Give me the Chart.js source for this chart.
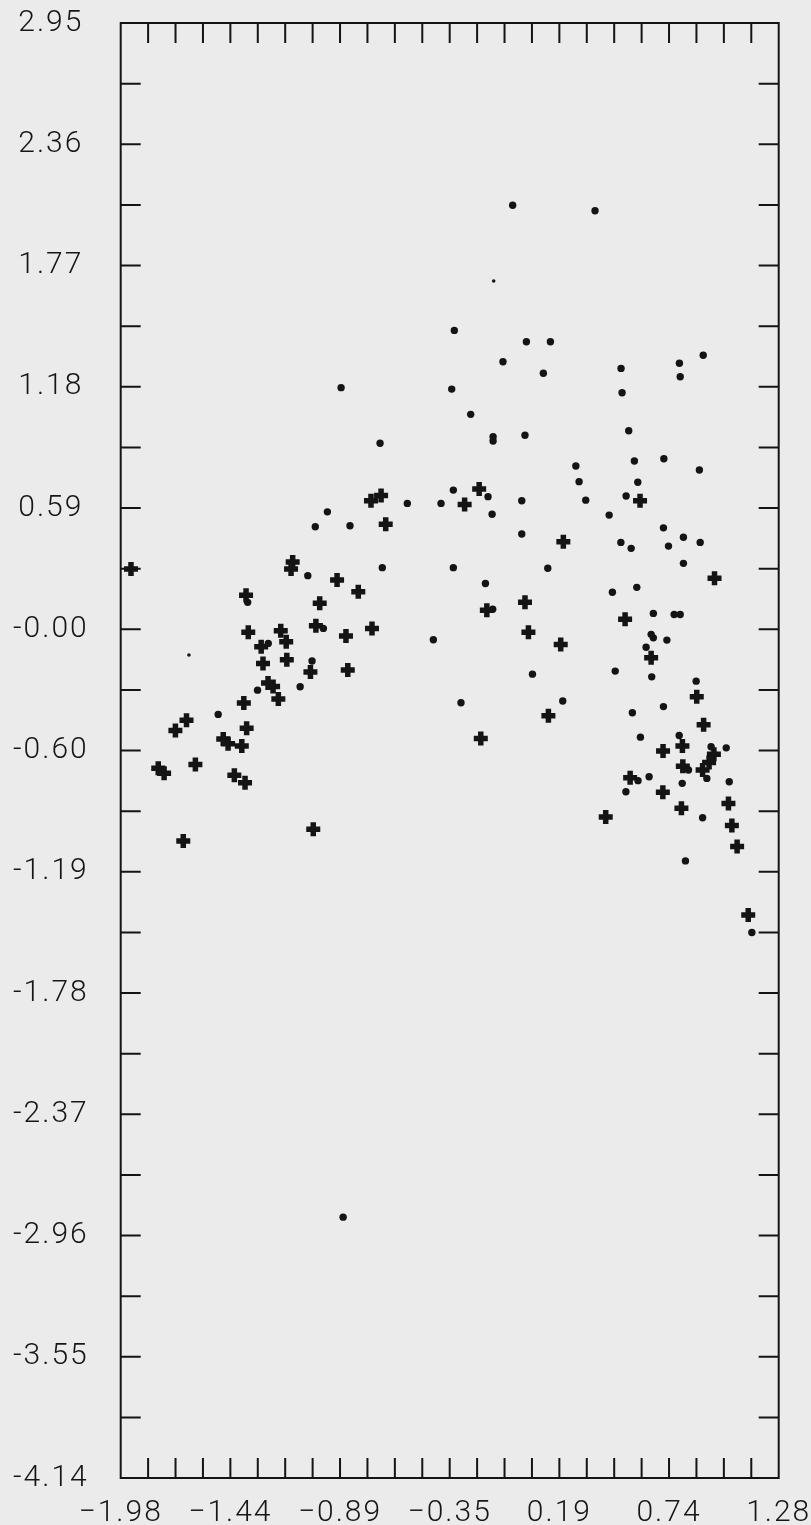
<!DOCTYPE html>
<html>
<head>
<meta charset="utf-8">
<script src="https://cdn.jsdelivr.net/npm/chart.js@4.4.1/dist/chart.umd.min.js"></script>
<style>
  html, body { margin: 0; padding: 0; background: #ebebeb; }
  #wrap { width: 811px; height: 1525px; }
</style>
</head>
<body>
<div id="wrap"><canvas id="chart" width="811" height="1525"></canvas></div>
<script>
// axis range and labels
const xMin = -1.98, xMax = 1.28;
const yMin = -4.14, yMax = 2.95;
const xTickLabels = ['\u22121.98', '\u22121.44', '\u22120.89', '\u22120.35', '0.19', '0.74', '1.28'];
const yTickLabels = ['2.95', '2.36', '1.77', '1.18', '0.59', '-0.00', '-0.60', '-1.19', '-1.78', '-2.37', '-2.96', '-3.55', '-4.14'];

// round markers
const dotX = [-0.038, 0.370, -0.327, 0.030, 0.149, -0.086, 0.114, 0.499, 0.788, 0.906,
  0.792, -0.340, 0.504, -0.246, -0.135, -0.135, 0.023, 0.537, 0.275, 0.565,
  0.711, 0.887, 0.291, 0.582, -0.332, -0.160, 0.524, -0.560, -0.393, 0.007,
  0.324, -0.888, -0.695, -0.956, -1.016, -0.844, -1.053, -0.684, -0.332, -1.351,
  -0.976, -1.249, -0.431, -1.032, -1.302, -1.091, -0.294, -1.497, -0.140, 0.007,
  0.440, 0.709, 0.498, 0.549, 0.734, 0.808, 0.891, 0.808, 0.136, -0.173,
  0.456, 0.577, -0.137, 0.659, 0.762, 0.792, 0.648, 0.659, 0.726, 0.623,
  0.060, 0.470, 0.651, 0.871, 0.210, 0.555, 0.709, 0.595, 0.787, 0.945,
  1.020, 0.833, 0.924, 0.583, 0.638, 1.035, 0.802, 0.523, 0.903, 0.818,
  1.147, -0.878];
const dotY = [2.062, 2.035, 1.452, 1.397, 1.397, 1.299, 1.243, 1.267, 1.292, 1.331,
  1.226, 1.166, 1.148, 1.043, 0.934, 0.913, 0.941, 0.963, 0.791, 0.816,
  0.827, 0.772, 0.715, 0.712, 0.674, 0.642, 0.645, 0.609, 0.609, 0.622,
  0.625, 1.173, 0.902, 0.568, 0.495, 0.500, 0.257, 0.296, 0.296, 0.127,
  0.000, -0.073, -0.055, -0.159, -0.301, -0.284, -0.362, -0.419, 0.556, 0.460,
  0.552, 0.490, 0.419, 0.390, 0.401, 0.444, 0.419, 0.317, 0.293, 0.219,
  0.176, 0.200, 0.093, 0.073, 0.068, 0.068, -0.029, -0.046, -0.057, -0.092,
  -0.223, -0.208, -0.236, -0.257, -0.354, -0.411, -0.381, -0.530, -0.522, -0.577,
  -0.582, -0.690, -0.731, -0.742, -0.723, -0.747, -0.755, -0.796, -0.923, -1.133,
  -1.482, -2.869];

// the two tiny specks
const speckX = [-0.132, -1.642];
const speckY = [1.693, -0.130];

// cross markers
const crossX = [-0.204, -0.276, 0.593, -0.740, -0.690, -0.667, -1.929, -1.128, -1.136, -0.908,
  -0.803, -1.359, -0.994, -1.013, -0.735, -0.864, -1.348, -1.187, -1.160, -1.284,
  -1.275, -1.157, -1.040, -0.855, -1.250, -1.225, -1.199, -1.370, -1.654, -1.709,
  -1.356, -1.472, -1.448, -1.380, -1.794, -1.765, -1.610, -1.417, -1.364, -1.026,
  -1.670, 0.213, 0.962, 0.023, -0.166, 0.519, 0.040, 0.200, 0.648, 0.874,
  0.139, 0.908, -0.196, 0.803, 0.707, 0.959, 0.935, 0.903, 0.805, 0.544,
  0.706, 1.031, 0.798, 0.423, 1.048, 1.074, 1.129];
const crossY = [0.679, 0.604, 0.622, 0.622, 0.647, 0.507, 0.289, 0.323, 0.289, 0.236,
  0.179, 0.162, 0.123, 0.013, 0.000, -0.037, -0.019, -0.011, -0.065, -0.090,
  -0.171, -0.153, -0.213, -0.203, -0.266, -0.283, -0.344, -0.363, -0.447, -0.497,
  -0.487, -0.539, -0.562, -0.573, -0.682, -0.706, -0.663, -0.715, -0.752, -0.979,
  -1.036, 0.422, 0.244, 0.127, 0.089, 0.044, -0.019, -0.078, -0.143, -0.333,
  -0.426, -0.470, -0.536, -0.573, -0.598, -0.613, -0.654, -0.690, -0.672, -0.728,
  -0.798, -0.853, -0.877, -0.919, -0.961, -1.063, -1.397];

const ink = '#141414';
const minorDivs = 24;
const tickLen = 20;

const toPoints = (xs, ys) => xs.map((v, i) => ({ x: v, y: ys[i] }));
const evenSteps = (lo, hi, n) => Array.from({ length: n + 1 }, (_, k) => lo + k * (hi - lo) / n);

// frame with inward ticks on all four sides
const frame = {
  id: 'frame',
  beforeDatasetsDraw(chart) {
    const { ctx, chartArea: a, scales: { x, y } } = chart;
    ctx.save();
    ctx.strokeStyle = ink;
    ctx.lineWidth = 2;
    ctx.strokeRect(a.left, a.top, a.right - a.left, a.bottom - a.top);
    ctx.beginPath();
    const xs = evenSteps(xMin, xMax, minorDivs);
    const ys = evenSteps(yMin, yMax, minorDivs);
    for (let k = 1; k < minorDivs; k++) {
      const px = x.getPixelForValue(xs[k]);
      ctx.moveTo(px, a.top); ctx.lineTo(px, a.top + tickLen);
      ctx.moveTo(px, a.bottom); ctx.lineTo(px, a.bottom - tickLen);
      const py = y.getPixelForValue(ys[k]);
      ctx.moveTo(a.left, py); ctx.lineTo(a.left + tickLen, py);
      ctx.moveTo(a.right, py); ctx.lineTo(a.right - tickLen, py);
    }
    ctx.stroke();
    ctx.restore();
  }
};

// wide letter spacing like the plotter font
const spacing = {
  id: 'spacing',
  beforeUpdate(chart) { chart.ctx.letterSpacing = '2px'; },
  beforeDraw(chart) { chart.ctx.letterSpacing = '2px'; }
};

const tickFont = { family: 'Roboto', size: 30, weight: '300' };

new Chart(document.getElementById('chart'), {
  type: 'scatter',
  data: {
    datasets: [
      {
        label: 'dots',
        data: toPoints(dotX, dotY),
        pointStyle: 'circle',
        pointRadius: 3.7,
        backgroundColor: ink,
        borderWidth: 0
      },
      {
        label: 'specks',
        data: toPoints(speckX, speckY),
        pointStyle: 'circle',
        pointRadius: 1.8,
        backgroundColor: ink,
        borderWidth: 0
      },
      {
        label: 'crosses',
        data: toPoints(crossX, crossY),
        pointStyle: 'cross',
        pointRadius: 7,
        borderColor: ink,
        borderWidth: 5.5
      }
    ]
  },
  options: {
    responsive: false,
    animation: false,
    clip: false,
    layout: { padding: { top: 23, right: 32.3, bottom: 0, left: 0 } },
    plugins: { legend: { display: false }, tooltip: { enabled: false } },
    scales: {
      x: {
        type: 'linear',
        position: 'bottom',
        min: xMin,
        max: xMax,
        grid: { display: false },
        border: { display: false },
        afterBuildTicks: scale => {
          scale.ticks = evenSteps(xMin, xMax, xTickLabels.length - 1).map(v => ({ value: v }));
        },
        afterFit: scale => {
          scale.height = 47;
          scale.paddingLeft = 0;
          scale.paddingRight = 0;
        },
        ticks: {
          autoSkip: false,
          maxRotation: 0,
          padding: 9,
          color: '#161616',
          font: tickFont,
          callback: (v, i) => xTickLabels[i]
        }
      },
      y: {
        type: 'linear',
        position: 'left',
        min: yMin,
        max: yMax,
        grid: { display: false },
        border: { display: false },
        afterBuildTicks: scale => {
          scale.ticks = evenSteps(yMax, yMin, yTickLabels.length - 1).map(v => ({ value: v }));
        },
        afterFit: scale => {
          scale.width = 120.7;
          scale.paddingTop = 0;
          scale.paddingBottom = 0;
        },
        ticks: {
          autoSkip: false,
          crossAlign: 'center',
          padding: 24,
          color: '#161616',
          font: tickFont,
          callback: (v, i) => yTickLabels[i]
        }
      }
    }
  },
  plugins: [frame, spacing]
});
</script>
</body>
</html>
